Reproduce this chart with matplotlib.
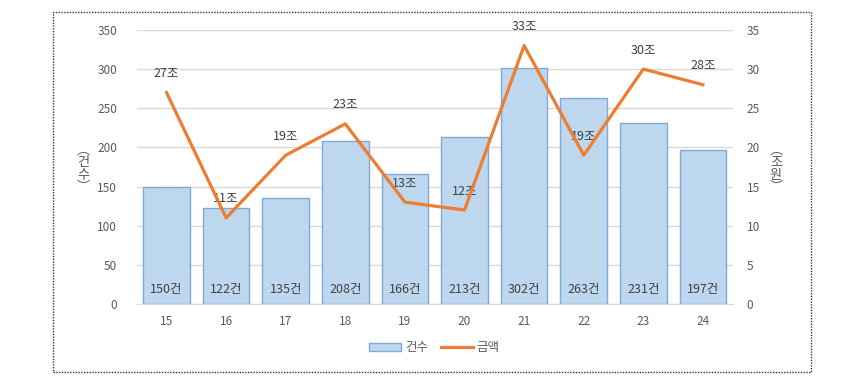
import numpy as np
import matplotlib.pyplot as plt
from matplotlib.patches import Rectangle

plt.rcParams['font.family'] = ['Noto Sans CJK KR', 'DejaVu Sans']

# data
years = ['15', '16', '17', '18', '19', '20', '21', '22', '23', '24']
counts = [150, 122, 135, 208, 166, 213, 302, 263, 231, 197]
amounts = [27, 11, 19, 23, 13, 12, 33, 19, 30, 28]
count_labels = [f'{c}건' for c in counts]
amount_labels = [f'{a}조' for a in amounts]
left_title = ['︵', '건', '수', '︶']
right_title = ['︵', '조', '원', '︶']

tick_color = '#595959'
label_color = '#404040'
bar_fill = '#BDD7EE'
bar_edge = '#7FA9D6'
line_color = '#ED7D31'

W, H = 860, 391
fig = plt.figure(figsize=(8.6, 3.91), dpi=100)
ax = fig.add_axes([0.159, 0.2225, 0.693, 0.701])
ax2 = ax.twinx()

x = np.arange(len(years))
bars = ax.bar(x, counts, width=0.78, color=bar_fill, edgecolor=bar_edge, linewidth=1.0,
              label='건수', zorder=2)
for xi, lab in zip(x, count_labels):
    ax.text(xi, 19, lab, ha='center', va='center', fontsize=9, color=label_color, zorder=3)

ax.set_xlim(-0.5, len(years) - 0.5)
ax.set_ylim(0, 350)
ax.set_yticks(np.arange(0, 351, 50))
ax.set_xticks(x)
ax.set_xticklabels(years)
ax.grid(axis='y', color='#D9D9D9', linewidth=1.0, zorder=0)
ax.set_axisbelow(True)
for s in ['top', 'left', 'right']:
    ax.spines[s].set_visible(False)
ax.spines['bottom'].set_color('#D9D9D9')
ax.tick_params(axis='both', length=0, labelsize=8.5, colors=tick_color)
ax.tick_params(axis='x', pad=8)
ax.tick_params(axis='y', pad=14)

ax2.plot(x, amounts, color=line_color, linewidth=2.3, label='금액', zorder=4)
for xi, a, lab in zip(x, amounts, amount_labels):
    ax2.annotate(lab, (xi, a), xytext=(0, 19), textcoords='offset pixels',
                 ha='center', va='center', fontsize=9, color=label_color)
ax2.set_ylim(0, 35)
ax2.set_yticks(np.arange(0, 36, 5))
for s in ['top', 'left', 'right', 'bottom']:
    ax2.spines[s].set_visible(False)
ax2.tick_params(axis='y', length=0, labelsize=8.5, colors=tick_color, pad=10)

# stacked vertical axis titles, one character per line
for i, ch in enumerate(left_title):
    fig.text(83 / W, 1 - (150 + 12.5 * i) / H, ch, ha='center', va='center',
             fontsize=9.5, color=tick_color)
for i, ch in enumerate(right_title):
    fig.text(776 / W, 1 - (150 + 12.5 * i) / H, ch, ha='center', va='center',
             fontsize=9.5, color=tick_color)

handles = [bars, ax2.get_lines()[0]]
fig.legend(handles, ['건수', '금액'], loc='center', bbox_to_anchor=(0.505, 0.11), ncol=2,
           frameon=False, fontsize=9, labelcolor=tick_color, handlelength=2.6,
           handleheight=0.6, columnspacing=1.0, handletextpad=0.3)

fig.patches.append(Rectangle((0.0616, 0.0486), 0.882, 0.92, transform=fig.transFigure,
                             fill=False, edgecolor='#333333', linestyle=(0, (1, 1)), linewidth=1.0))

fig.savefig('out.png', dpi=100)
